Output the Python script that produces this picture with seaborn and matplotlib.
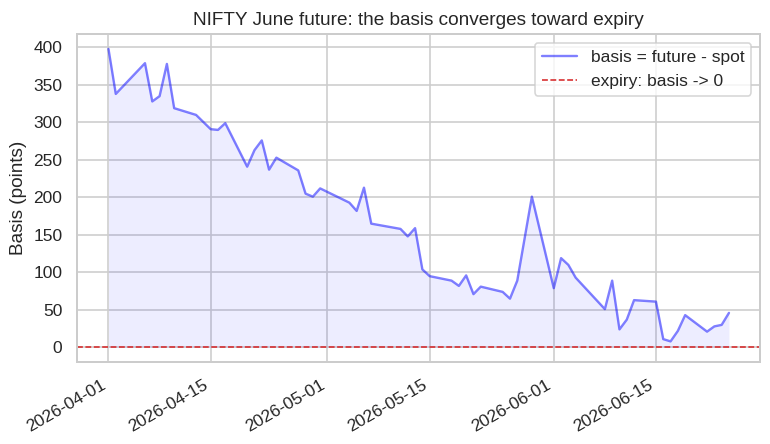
import matplotlib

matplotlib.use("Agg")
import matplotlib.dates as mdates
import matplotlib.pyplot as plt
import pandas as pd
import seaborn as sns

# Trading days (holidays skipped) and basis = future - spot, in index points
dates = [
    "2026-04-01", "2026-04-02", "2026-04-06", "2026-04-07", "2026-04-08",
    "2026-04-09", "2026-04-10", "2026-04-13", "2026-04-15", "2026-04-16",
    "2026-04-17", "2026-04-20", "2026-04-21", "2026-04-22", "2026-04-23",
    "2026-04-24", "2026-04-27", "2026-04-28", "2026-04-29", "2026-04-30",
    "2026-05-04", "2026-05-05", "2026-05-06", "2026-05-07", "2026-05-11",
    "2026-05-12", "2026-05-13", "2026-05-14", "2026-05-15", "2026-05-18",
    "2026-05-19", "2026-05-20", "2026-05-21", "2026-05-22", "2026-05-25",
    "2026-05-26", "2026-05-27", "2026-05-29", "2026-06-01", "2026-06-02",
    "2026-06-03", "2026-06-04", "2026-06-08", "2026-06-09", "2026-06-10",
    "2026-06-11", "2026-06-12", "2026-06-15", "2026-06-16", "2026-06-17",
    "2026-06-18", "2026-06-19", "2026-06-22", "2026-06-23", "2026-06-24",
    "2026-06-25",
]
basis = [
    398, 338, 379, 328, 335, 378, 319, 310, 291, 290,
    299, 241, 263, 276, 237, 253, 236, 205, 201, 212,
    193, 182, 213, 165, 158, 148, 159, 104, 95, 89,
    82, 96, 71, 81, 74, 65, 89, 201, 79, 119,
    110, 93, 51, 89, 24, 37, 63, 61, 11, 8,
    22, 43, 21, 28, 30, 46,
]

sns.set_theme(style="whitegrid", context="notebook")
plt.rcParams["font.family"] = ["Liberation Sans", "DejaVu Sans"]

df = pd.DataFrame({"date": pd.to_datetime(dates), "basis": basis})

DPI = 114
fig, ax = plt.subplots(figsize=(770 / DPI, 444 / DPI), dpi=DPI)
sns.lineplot(data=df, x="date", y="basis", ax=ax, color="blue", alpha=0.5,
             lw=1.5, label="basis = future - spot")
ax.fill_between(df["date"], df["basis"], 0, color="blue", alpha=0.07, lw=0)
ax.axhline(0, color="#d62728", lw=1.0, ls="--", label="expiry: basis -> 0")

ax.set_title("NIFTY June future: the basis converges toward expiry", fontsize=12)
ax.set_xlabel("")
ax.set_ylabel("Basis (points)", fontsize=12)
ax.xaxis.set_major_formatter(mdates.DateFormatter("%Y-%m-%d"))
ax.legend(loc="upper right", fontsize=11)
fig.autofmt_xdate()

fig.subplots_adjust(left=0.1006, right=0.987, bottom=0.184, top=0.9234)
fig.savefig("out.png", dpi=DPI)
